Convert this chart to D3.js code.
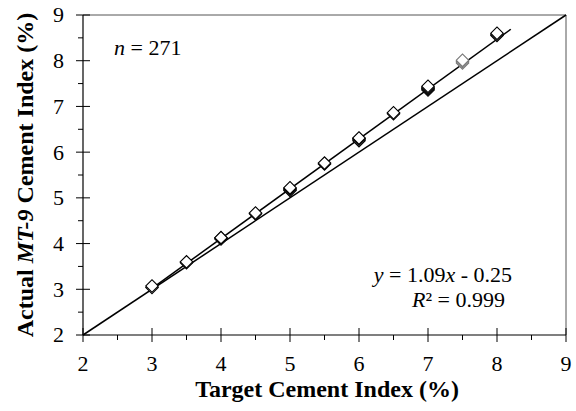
<!DOCTYPE html>
<html>
<head>
<meta charset="utf-8">
<script src="https://cdn.jsdelivr.net/npm/d3@7"></script>
<style>
  html, body { margin: 0; padding: 0; background: #fff; }
  svg { display: block; }
</style>
</head>
<body>
<svg id="chart" width="576" height="411"></svg>
<script>
// Target cement index levels and the measured MT-9 values at each level
const targets = [3, 3.5, 4, 4.5, 5, 5.5, 6, 6.5, 7, 7.5, 8];
const actualAt3 = [3.04, 3.07];
const actualAt35 = [3.58, 3.60];
const actualAt4 = [4.10, 4.12, 4.13];
const actualAt45 = [4.65, 4.67];
const actualAt5 = [5.16, 5.19, 5.20, 5.22];
const actualAt55 = [5.74, 5.76];
const actualAt6 = [6.25, 6.28, 6.30, 6.31];
const actualAt65 = [6.84, 6.86];
const actualAt7 = [7.36, 7.38, 7.40, 7.42, 7.44];
const actualAt75 = [7.95, 7.98, 8.01];
const actualAt8 = [8.55, 8.58, 8.60];
const actualByTarget = [actualAt3, actualAt35, actualAt4, actualAt45, actualAt5,
  actualAt55, actualAt6, actualAt65, actualAt7, actualAt75, actualAt8];

// Linear fit reported on the chart
const fitSlope = 1.09;
const fitIntercept = -0.25;
const fitRange = [3, 8.2];
const equalityRange = [2, 9];

const xTicks = [2, 3, 4, 5, 6, 7, 8, 9];
const yTicks = [2, 3, 4, 5, 6, 7, 8, 9];
const minorTicks = [2.5, 3.5, 4.5, 5.5, 6.5, 7.5, 8.5];

const FONT = "'Liberation Serif', 'Times New Roman', serif";

const svg = d3.select("#chart");
const plotLeft = 83, plotRight = 566, plotTop = 15, plotBottom = 335;

const x = d3.scaleLinear().domain([2, 9]).range([plotLeft, plotRight]);
const y = d3.scaleLinear().domain([2, 9]).range([plotBottom, plotTop]);

// Plot frame (top and right borders)
svg.append("path")
  .attr("d", `M${plotLeft},${plotTop}H${plotRight}V${plotBottom}`)
  .attr("fill", "none").attr("stroke", "#555").attr("stroke-width", 1);

// Axes: major ticks cross the axis line, minor ticks sit outside
const xAxis = svg.append("g").attr("transform", `translate(0,${plotBottom})`);
xAxis.append("line").attr("x1", plotLeft).attr("x2", plotRight).attr("stroke", "#000").attr("stroke-width", 1.2);
xAxis.selectAll(".maj").data(xTicks).join("line").attr("class", "maj")
  .attr("x1", d => x(d)).attr("x2", d => x(d)).attr("y1", -7).attr("y2", 7)
  .attr("stroke", "#000").attr("stroke-width", 1);
xAxis.selectAll(".min").data(minorTicks).join("line").attr("class", "min")
  .attr("x1", d => x(d)).attr("x2", d => x(d)).attr("y1", 0).attr("y2", 5)
  .attr("stroke", "#000").attr("stroke-width", 1);
xAxis.selectAll("text").data(xTicks).join("text")
  .attr("x", d => x(d)).attr("y", 36)
  .attr("text-anchor", "middle").attr("font-family", FONT).attr("font-size", 22)
  .text(d3.format("d"));

const yAxis = svg.append("g").attr("transform", `translate(${plotLeft},0)`);
yAxis.append("line").attr("y1", plotTop).attr("y2", plotBottom).attr("stroke", "#000").attr("stroke-width", 1.2);
yAxis.selectAll(".maj").data(yTicks).join("line").attr("class", "maj")
  .attr("y1", d => y(d)).attr("y2", d => y(d)).attr("x1", -7).attr("x2", 7)
  .attr("stroke", "#000").attr("stroke-width", 1);
yAxis.selectAll(".min").data(minorTicks).join("line").attr("class", "min")
  .attr("y1", d => y(d)).attr("y2", d => y(d)).attr("x1", -5).attr("x2", 0)
  .attr("stroke", "#000").attr("stroke-width", 1);
yAxis.selectAll("text").data(yTicks).join("text")
  .attr("x", -19).attr("y", d => y(d)).attr("dy", "0.34em")
  .attr("text-anchor", "end").attr("font-family", FONT).attr("font-size", 22)
  .text(d3.format("d"));

// 1:1 line
svg.append("line")
  .attr("x1", x(equalityRange[0])).attr("y1", y(equalityRange[0]))
  .attr("x2", x(equalityRange[1])).attr("y2", y(equalityRange[1]))
  .attr("stroke", "#000").attr("stroke-width", 1.5);

// Regression line
svg.append("line")
  .attr("x1", x(fitRange[0])).attr("y1", y(fitSlope * fitRange[0] + fitIntercept))
  .attr("x2", x(fitRange[1])).attr("y2", y(fitSlope * fitRange[1] + fitIntercept))
  .attr("stroke", "#000").attr("stroke-width", 1.5);

// Measured points as open diamonds
const points = [];
targets.forEach((t, i) => actualByTarget[i].forEach(v => points.push({ t, v, i })));
const diamond = d3.symbol(d3.symbolSquare, 78);
svg.append("g").selectAll("path").data(points).join("path")
  .attr("d", diamond)
  .attr("transform", d => `translate(${x(d.t)},${y(d.v)}) rotate(45)`)
  .attr("fill", "#fff")
  .attr("stroke", d => d.t === 7.5 ? "#777" : "#000")
  .attr("stroke-width", 1.1);

// Annotations
const nText = svg.append("text").attr("x", 114).attr("y", 55)
  .attr("font-family", FONT).attr("font-size", 22);
nText.append("tspan").attr("font-style", "italic").text("n");
nText.append("tspan").text(" = 271");

const eq = svg.append("text").attr("x", 512).attr("y", 282).attr("text-anchor", "end")
  .attr("font-family", FONT).attr("font-size", 22);
eq.append("tspan").attr("font-style", "italic").text("y");
eq.append("tspan").text(` = ${fitSlope}`);
eq.append("tspan").attr("font-style", "italic").text("x");
eq.append("tspan").text(` - ${Math.abs(fitIntercept).toFixed(2)}`);

const r2 = svg.append("text").attr("x", 505).attr("y", 307).attr("text-anchor", "end")
  .attr("font-family", FONT).attr("font-size", 22);
r2.append("tspan").attr("font-style", "italic").text("R");
r2.append("tspan").text("\u00B2 = 0.999");

// Axis titles
svg.append("text")
  .attr("x", 327).attr("y", 397)
  .attr("text-anchor", "middle").attr("font-family", FONT)
  .attr("font-size", 24).attr("font-weight", "bold")
  .text("Target Cement Index (%)");

const yTitle = svg.append("text")
  .attr("transform", `translate(33,${(plotTop + plotBottom) / 2}) rotate(-90)`)
  .attr("text-anchor", "middle").attr("font-family", FONT)
  .attr("font-size", 24).attr("font-weight", "bold");
yTitle.append("tspan").text("Actual ");
yTitle.append("tspan").attr("font-style", "italic").text("MT-9");
yTitle.append("tspan").text(" Cement Index (%)");
</script>
</body>
</html>
